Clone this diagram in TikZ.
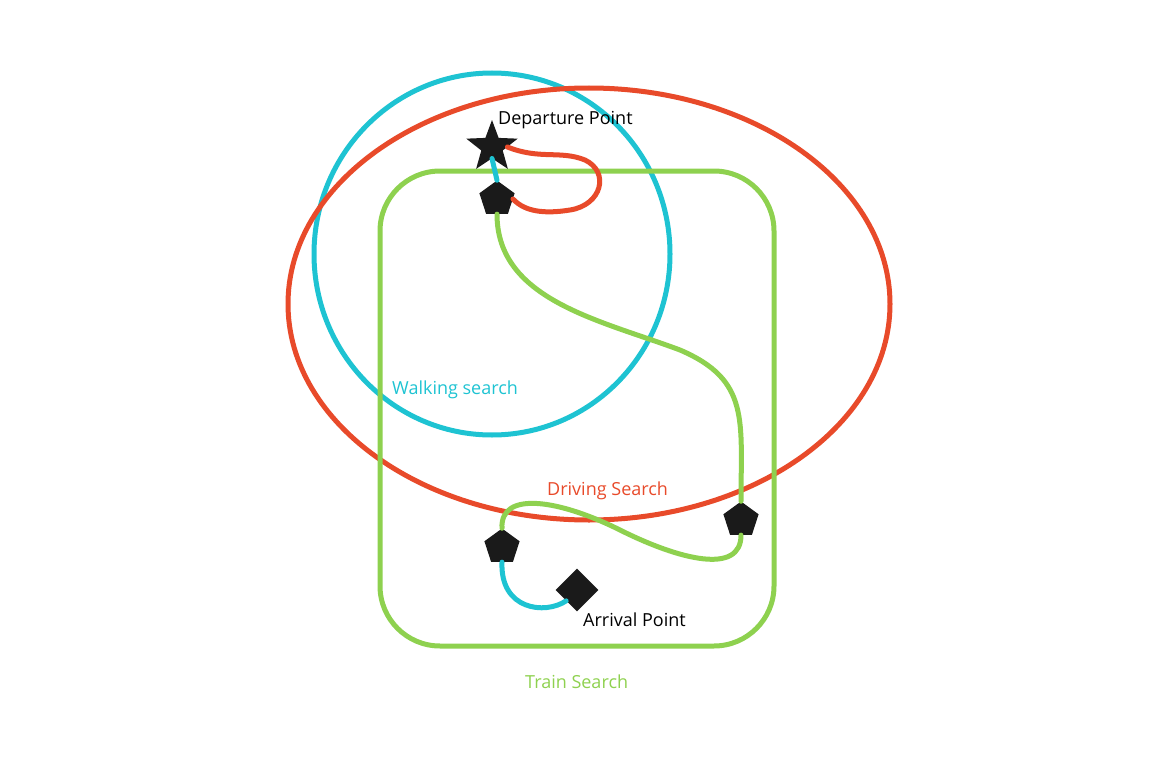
\documentclass[tikz,border=0pt]{standalone}
\usepackage{fontspec}
\setmainfont{Open Sans}
\usetikzlibrary{shapes.geometric}
\definecolor{cy}{HTML}{1EC3D2}
\definecolor{rd}{HTML}{E84A2A}
\definecolor{gr}{HTML}{8ED14F}
\definecolor{ink}{HTML}{1A1A1A}
\begin{document}
\begin{tikzpicture}[x=1pt,y=-1pt,
  wire/.style={line width=5pt,line cap=round},
  pent/.style={regular polygon,regular polygon sides=5,fill=ink,minimum size=37pt,inner sep=0pt},
  stop/.style={star,star points=5,star point ratio=2.4,fill=ink,minimum size=54pt,inner sep=0pt},
  goal/.style={diamond,fill=ink,minimum size=43pt,inner sep=0pt},
  lbl/.style={font=\fontsize{18}{21}\selectfont,inner sep=0pt}]
\useasboundingbox (0,0) rectangle (1152,768);
% regions
\draw[wire,cy] (492,254) ellipse [x radius=178,y radius=181];
\draw[wire,rd] (589,304) ellipse [x radius=301,y radius=216];
\draw[wire,gr,rounded corners=60pt] (380,171) rectangle (774,646);
% nodes
\node[stop] (dep) at (492,147) {};
\node[pent] (p1) at (497,199) {};
\node[pent] (p2) at (741,520) {};
\node[pent] (p3) at (502,547) {};
\node[goal] (arr) at (577,590) {};
% connectors
\draw[wire,cy] (dep.south) -- (p1.north);
\draw[wire,rd] (dep.east) .. controls (540,160) and (560,150) .. (585,160)
  .. controls (610,172) and (602,205) .. (570,210)
  .. controls (545,214) and (525,212) .. (p1.east);
\draw[wire,gr] (p1.south) .. controls (497,300) and (600,320) .. (680,350)
  .. controls (750,380) and (741,420) .. (p2.north);
\draw[wire,gr] (p2.south) .. controls (741,575) and (680,560) .. (620,530)
  .. controls (560,500) and (500,490) .. (p3.north);
\draw[wire,cy] (p3.south) .. controls (500,610) and (545,615) .. (arr.south west);
% labels
\node[lbl,anchor=west] (tdep) at (498,120) {Departure Point};
\node[lbl,anchor=west,text=cy] (twalk) at (392,390) {Walking search};
\node[lbl,anchor=west,text=rd] (tdrv) at (547,491) {Driving Search};
\node[lbl,anchor=west] (tarr) at (583,620) {Arrival Point};
\node[lbl,anchor=west,text=gr] (ttrain) at (525,682) {Train Search};
\end{tikzpicture}
\end{document}
